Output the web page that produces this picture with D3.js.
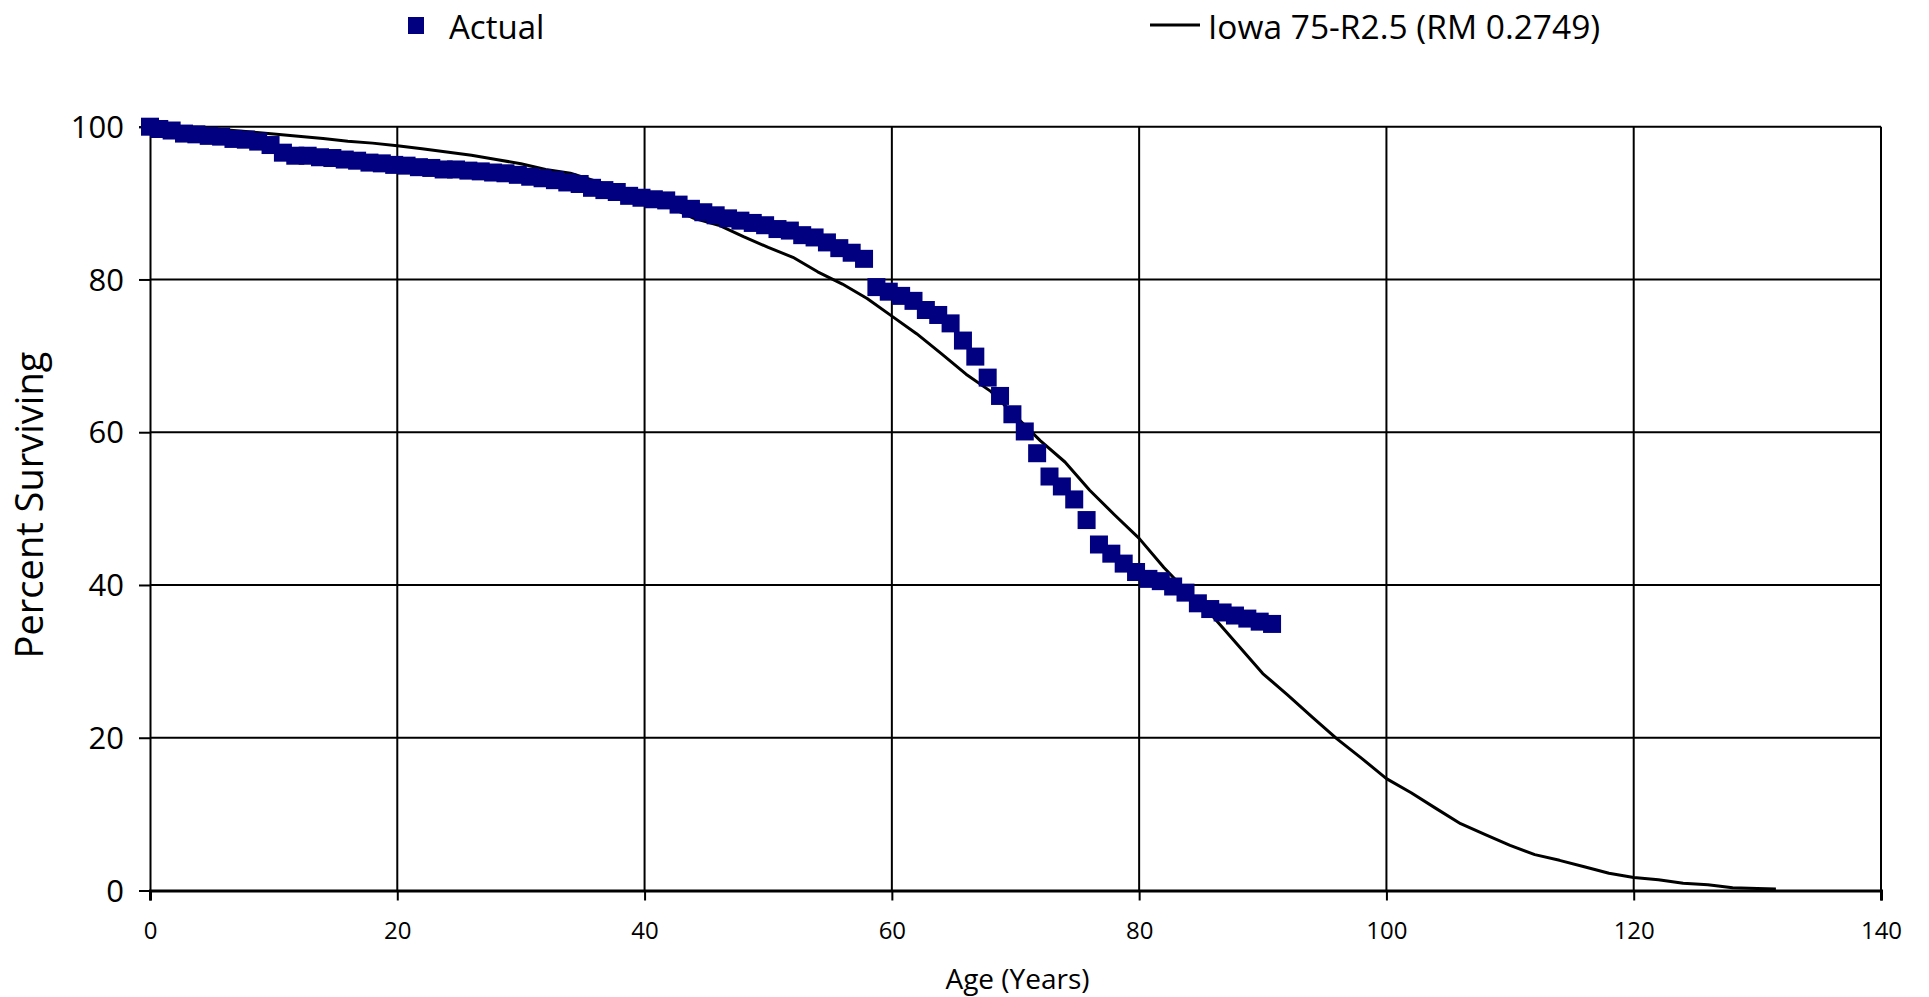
<!DOCTYPE html>
<html>
<head>
<meta charset="utf-8">
<script src="https://cdn.jsdelivr.net/npm/d3@7"></script>
<style>
  html, body { margin: 0; padding: 0; background: #ffffff; }
  svg { display: block; }
  text { font-family: "Open Sans", "Liberation Sans", sans-serif; fill: #000; }
</style>
</head>
<body>
<svg id="chart" width="1929" height="997"></svg>
<script>
// ---------- data ----------
const ageTicks = [0, 20, 40, 60, 80, 100, 120, 140];
const percentTicks = [0, 20, 40, 60, 80, 100];

const seriesNames = ["Actual", "Iowa 75-R2.5 (RM 0.2749)"];

const actualAges = [0, 0.75, 1.75, 2.75, 3.75, 4.75, 5.75, 6.75, 7.75, 8.75, 9.75,
  10.75, 11.75, 12.75, 13.75, 14.75, 15.75, 16.75, 17.75, 18.75, 19.75,
  20.75, 21.75, 22.75, 23.75, 24.75, 25.75, 26.75, 27.75, 28.75, 29.75,
  30.75, 31.75, 32.75, 33.75, 34.75, 35.75, 36.75, 37.75, 38.75, 39.75,
  40.75, 41.75, 42.75, 43.75, 44.75, 45.75, 46.75, 47.75, 48.75, 49.75,
  50.75, 51.75, 52.75, 53.75, 54.75, 55.75, 56.75, 57.75, 58.75, 59.75,
  60.75, 61.75, 62.75, 63.75, 64.75, 65.75, 66.75, 67.75, 68.75, 69.75,
  70.75, 71.75, 72.75, 73.75, 74.75, 75.75, 76.75, 77.75, 78.75, 79.75,
  80.75, 81.75, 82.75, 83.75, 84.75, 85.75, 86.75, 87.75, 88.75, 89.75, 90.75];

const actualPct = [100, 99.7, 99.5, 99.1, 99.0, 98.8, 98.7, 98.4, 98.3, 98.05, 97.6,
  96.6, 96.2, 96.2, 96.0, 95.9, 95.7, 95.55, 95.3, 95.2, 95.0,
  94.9, 94.7, 94.6, 94.4, 94.4, 94.25, 94.15, 94.0, 93.9, 93.7,
  93.45, 93.25, 93.0, 92.7, 92.5, 92.0, 91.7, 91.45, 90.95, 90.7,
  90.5, 90.35, 89.8, 89.25, 88.8, 88.4, 88.0, 87.7, 87.4, 87.1,
  86.6, 86.4, 85.8, 85.5, 84.85, 84.1, 83.5, 82.7, 79.0, 78.4,
  77.85, 77.2, 76.0, 75.35, 74.25, 72.0, 69.9, 67.15, 64.75, 62.35,
  60.1, 57.25, 54.2, 52.9, 51.2, 48.5, 45.3, 44.1, 42.8, 41.7,
  40.8, 40.5, 39.8, 39.0, 37.6, 36.85, 36.4, 36.0, 35.6, 35.2, 34.9];

const iowaAges = [0, 2, 4, 6, 8, 10, 12, 14, 16, 18, 20,
  22, 24, 26, 28, 30, 32, 34, 36, 38, 40,
  42, 44, 46, 48, 50, 52, 54, 56, 58, 60,
  62, 64, 66, 68, 70, 72, 74, 76, 78, 80,
  82, 84, 86, 88, 90, 92, 94, 96, 98, 100,
  102, 104, 106, 108, 110, 112, 114, 116, 118, 120,
  122, 124, 126, 128, 130, 131.5];

const iowaPct = [100, 99.95, 99.9, 99.6, 99.35, 99.05, 98.75, 98.45, 98.1, 97.85, 97.5,
  97.1, 96.7, 96.25, 95.7, 95.15, 94.4, 93.9, 92.9, 91.9, 90.8,
  89.5, 88.0, 87.1, 85.6, 84.2, 82.9, 81.0, 79.4, 77.5, 75.2,
  72.9, 70.3, 67.6, 65.35, 62.1, 58.9, 56.1, 52.4, 49.2, 46.1,
  42.3, 38.9, 35.8, 32.1, 28.4, 25.6, 22.7, 19.85, 17.3, 14.65,
  12.8, 10.75, 8.75, 7.3, 5.9, 4.7, 3.95, 3.1, 2.25, 1.7,
  1.4, 0.94, 0.75, 0.35, 0.25, 0.2];

// ---------- layout ----------
const svg = d3.select("#chart");
const plot = { left: 150, right: 1881, top: 126.7, bottom: 890.5 };

const x = d3.scaleLinear().domain([0, 140]).range([plot.left, plot.right]);
const y = d3.scaleLinear().domain([0, 100]).range([plot.bottom, plot.top]);

const actual = actualAges.map((a, i) => ({ age: a, pct: actualPct[i] }));
const iowa = iowaAges.map((a, i) => ({ age: a, pct: iowaPct[i] }));

// gridlines
const grid = svg.append("g");
grid.selectAll("line.h").data(percentTicks.filter(d => d !== 0)).enter().append("line")
  .attr("x1", plot.left).attr("x2", plot.right)
  .attr("y1", d => y(d)).attr("y2", d => y(d))
  .attr("stroke", "#000").attr("stroke-width", 2);
grid.selectAll("line.v").data(ageTicks.filter(d => d !== 0)).enter().append("line")
  .attr("x1", d => x(d)).attr("x2", d => x(d))
  .attr("y1", plot.top).attr("y2", plot.bottom)
  .attr("stroke", "#000").attr("stroke-width", 2);

// y axis
const yAxis = svg.append("g")
  .attr("transform", `translate(${plot.left},0)`)
  .call(d3.axisLeft(y).tickValues(percentTicks).tickSize(11).tickPadding(15));
yAxis.select(".domain").attr("stroke", "#000").attr("stroke-width", 2);
yAxis.selectAll(".tick line").attr("stroke", "#000").attr("stroke-width", 2);
yAxis.selectAll(".tick text").attr("font-size", 31).attr("font-family", "Open Sans").attr("dy", "0.34em");

// x axis
const xAxis = svg.append("g")
  .attr("transform", `translate(0,${plot.bottom})`)
  .call(d3.axisBottom(x).tickValues(ageTicks).tickSize(10).tickPadding(30));
xAxis.select(".domain").attr("stroke", "#000").attr("stroke-width", 3);
xAxis.selectAll(".tick line").attr("stroke", "#000").attr("stroke-width", 2);
xAxis.selectAll(".tick text").attr("font-size", 24).attr("font-family", "Open Sans").attr("dy", "0.34em");

// axis titles
svg.append("text")
  .attr("x", (plot.left + plot.right) / 2 + 2).attr("y", 978)
  .attr("text-anchor", "middle").attr("dominant-baseline", "central")
  .attr("font-size", 28).text("Age (Years)");
svg.append("text")
  .attr("transform", `translate(28,505) rotate(-90)`)
  .attr("text-anchor", "middle").attr("dominant-baseline", "central")
  .attr("font-size", 38).text("Percent Surviving");

// Iowa curve
const line = d3.line().x(d => x(d.age)).y(d => y(d.pct));
svg.append("path").datum(iowa)
  .attr("d", line).attr("fill", "none")
  .attr("stroke", "#000").attr("stroke-width", 3).attr("stroke-linejoin", "round");

// Actual markers
const ms = 18;
svg.append("g").selectAll("rect").data(actual).enter().append("rect")
  .attr("x", d => x(d.age) - ms / 2).attr("y", d => y(d.pct) - ms / 2)
  .attr("width", ms).attr("height", ms)
  .attr("fill", "#000080");

// legend
const lg = svg.append("g");
lg.append("rect").attr("x", 408).attr("y", 17).attr("width", 16).attr("height", 17).attr("fill", "#000080");
lg.append("text").attr("x", 449).attr("y", 26).attr("dominant-baseline", "central")
  .attr("font-size", 33).text(seriesNames[0]);
lg.append("line").attr("x1", 1150).attr("x2", 1200).attr("y1", 25).attr("y2", 25)
  .attr("stroke", "#000").attr("stroke-width", 3);
lg.append("text").attr("x", 1208).attr("y", 26).attr("dominant-baseline", "central")
  .attr("font-size", 33.5).text(seriesNames[1]);
</script>
</body>
</html>
